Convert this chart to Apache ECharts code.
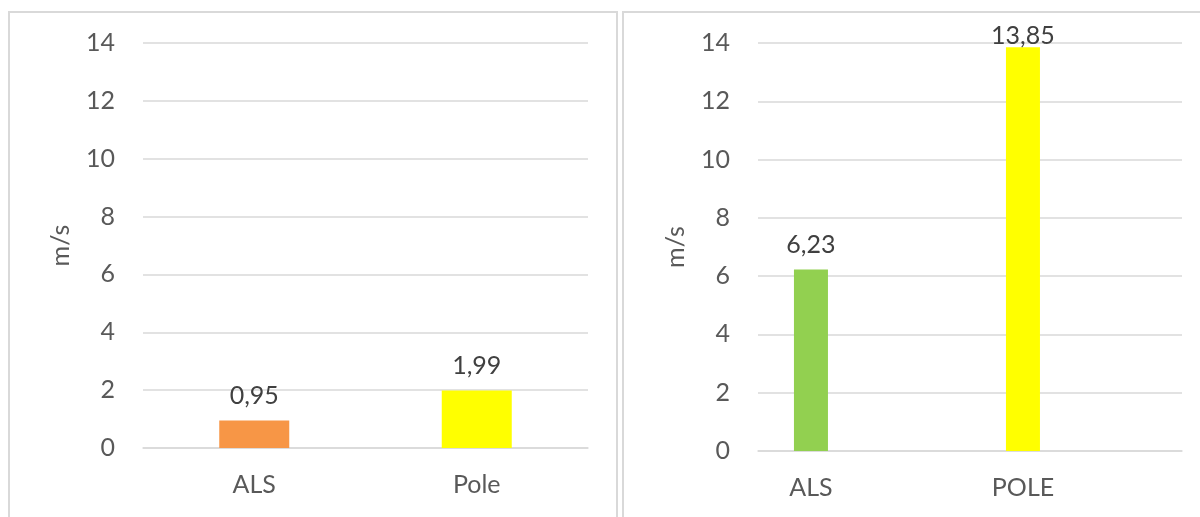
<!DOCTYPE html>
<html>
<head>
<meta charset="utf-8">
<script src="https://cdn.jsdelivr.net/npm/echarts@6/dist/echarts.min.js"></script>
<style>
html,body{margin:0;padding:0;background:#fff;}
#chart{width:1200px;height:517px;}
</style>
</head>
<body>
<div id="chart"></div>
<script>
// Data
const leftCategories = ['ALS', 'Pole'];
const leftValues = [0.95, 1.99];
const leftColors = ['#F79646', '#FFFF00'];

const rightCategories = ['ALS', 'POLE'];
const rightValues = [6.23, 13.85];
const rightColors = ['#92D050', '#FFFF00'];

const yMin = 0, yMax = 14, yInterval = 2;
const yAxisName = 'm/s';

const FONT = 'Lato';
const fmt = v => String(v.toFixed(2)).replace('.', ',');

const chart = echarts.init(document.getElementById('chart'), null, {renderer: 'canvas'});

function yAxis(gridIndex) {
  return {
    type: 'value', gridIndex, min: yMin, max: yMax, interval: yInterval,
    name: yAxisName, nameLocation: 'middle', nameGap: 70,
    nameTextStyle: {fontFamily: FONT, fontSize: 25, color: '#595959'},
    axisLine: {show: false}, axisTick: {show: false},
    axisLabel: {fontFamily: FONT, fontSize: 25, color: '#595959', margin: 28},
    splitLine: {lineStyle: {color: '#d9d9d9', width: 1.5}}
  };
}
function xAxis(gridIndex, cats, pad) {
  return {
    type: 'category', gridIndex, data: cats,
    axisLine: {show: true, lineStyle: {color: '#d9d9d9', width: 1.5}},
    axisTick: {show: false},
    axisLabel: {fontFamily: FONT, fontSize: 25, color: '#595959', margin: 24, padding: pad}
  };
}
const labelCfg = {
  show: true, position: 'top', distance: 12,
  fontFamily: FONT, fontSize: 25, color: '#404040', lineHeight: 25,
  formatter: p => fmt(p.value)
};
// keep labels inside the chart area (like the original, where the top label is pushed down)
const keepInside = p => (p.labelRect.y < 23 ? {dy: 23 - p.labelRect.y} : {});

chart.setOption({
  animation: false,
  backgroundColor: '#ffffff',
  graphic: [
    {type: 'rect', shape: {x: 9, y: 12, width: 608, height: 600}, style: {fill: 'none', stroke: '#d9d9d9', lineWidth: 2}},
    {type: 'rect', shape: {x: 623, y: 12, width: 600, height: 600}, style: {fill: 'none', stroke: '#d9d9d9', lineWidth: 2}}
  ],
  grid: [
    {left: 143, top: 43, width: 445, height: 405},
    {left: 758, top: 43, width: 424, height: 408}
  ],
  xAxis: [xAxis(0, leftCategories, 0), xAxis(1, rightCategories, [0, 106, 0, 0])],
  yAxis: [yAxis(0), yAxis(1)],
  series: [
    {
      type: 'bar', xAxisIndex: 0, yAxisIndex: 0, barWidth: 70,
      data: leftValues.map((v, i) => ({value: v, itemStyle: {color: leftColors[i]}})),
      label: labelCfg, labelLayout: keepInside
    },
    {
      type: 'bar', xAxisIndex: 1, yAxisIndex: 1, barWidth: 34, barGap: '212%',
      data: rightValues.map((v, i) => ({value: v, itemStyle: {color: rightColors[i]}})),
      label: labelCfg, labelLayout: keepInside
    },
    {
      type: 'bar', xAxisIndex: 1, yAxisIndex: 1, barWidth: 34,
      data: rightCategories.map(() => '-')
    }
  ]
});
</script>
</body>
</html>
